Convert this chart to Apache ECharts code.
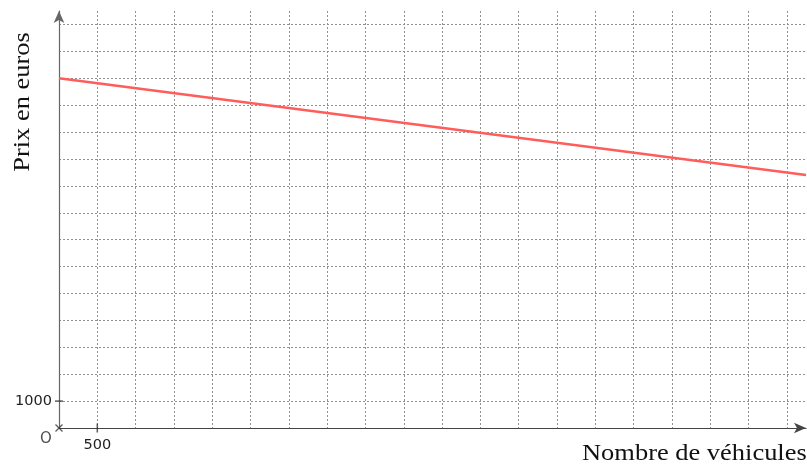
<!DOCTYPE html>
<html>
<head>
<meta charset="utf-8">
<script src="https://cdn.jsdelivr.net/npm/echarts@6/dist/echarts.min.js"></script>
<style>html,body{margin:0;padding:0;background:#fff}#c{width:807px;height:468px}</style>
</head>
<body>
<div id="c"></div>
<script>
// Data
var vehicles = [0, 9750];
var prices = [13000, 9400];
var xLabelValues = [500];
var yLabelValues = [1000];
var xName = 'Nombre de véhicules';
var yName = 'Prix en euros';
var originLabel = 'O';

var chart = echarts.init(document.getElementById('c'));
var gridLine = {show: true, showMinLine: false, showMaxLine: false,
  lineStyle: {color: '#909090', type: [2, 2], width: 1}};
chart.setOption({
  animation: false,
  grid: {left: 59, right: 1, top: 11, bottom: 40, outerBoundsMode: 'none', containLabel: false},
  graphic: [{
    type: 'text', x: 23, y: 102, rotation: Math.PI / 2, scaleX: 1.15,
    style: {text: yName, fontFamily: 'Liberation Serif', fontSize: 23, fill: '#111',
      align: 'center', verticalAlign: 'middle'}
  }, {
    type: 'text', x: 582, y: 454, scaleX: 1.15,
    style: {text: xName, fontFamily: 'Liberation Serif', fontSize: 23, fill: '#111',
      align: 'left', verticalAlign: 'middle'}
  }],
  xAxis: {
    type: 'value', min: 0, max: 9750, interval: 500,
    axisLine: {show: true, onZero: false, symbol: ['none', 'arrow'], symbolSize: [8, 12],
      lineStyle: {color: '#444', width: 1.2}},
    axisTick: {show: false},
    splitLine: gridLine,
    axisLabel: {margin: 10, fontFamily: 'DejaVu Sans', fontSize: 14.5, color: '#222',
      showMaxLabel: false,
      formatter: function (v) { return xLabelValues.indexOf(v) >= 0 ? String(v) : ''; }}
  },
  yAxis: {
    type: 'value', min: 0, max: 15500, interval: 1000,
    axisLine: {show: true, onZero: false, symbol: ['none', 'arrow'], symbolSize: [8, 12],
      lineStyle: {color: '#666', width: 1.2}},
    axisTick: {show: false},
    splitLine: gridLine,
    axisLabel: {margin: 7, fontFamily: 'DejaVu Sans', fontSize: 14.5, color: '#222',
      showMaxLabel: false,
      formatter: function (v) { return yLabelValues.indexOf(v) >= 0 ? String(v) : ''; }}
  },
  series: [
    {
      type: 'line', data: vehicles.map(function (x, i) { return [x, prices[i]]; }),
      symbol: 'none', lineStyle: {color: '#ff5c5c', width: 2.5}, z: 5
    },
    {
      type: 'scatter', data: yLabelValues.map(function (v) { return [0, v]; }),
      symbol: 'rect', symbolSize: [8, 1.5], itemStyle: {color: '#333'}, z: 6
    },
    {
      type: 'scatter', data: xLabelValues.map(function (v) { return [v, 0]; }),
      symbol: 'rect', symbolSize: [1.5, 9], itemStyle: {color: '#333'}, z: 6
    },
    {
      type: 'scatter', data: [[0, 0]],
      symbol: 'path://M0,0L10,10M10,0L0,10', symbolSize: 7,
      itemStyle: {color: 'transparent', borderColor: '#333', borderWidth: 1.3}, z: 6,
      label: {show: true, formatter: originLabel, position: 'left', offset: [2, 11],
        fontFamily: 'DejaVu Sans', fontSize: 15, color: '#222'}
    }
  ]
});
</script>
</body>
</html>
